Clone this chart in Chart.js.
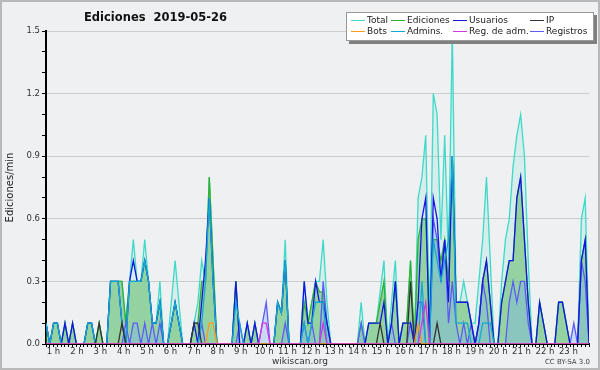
<!DOCTYPE html>
<html lang="es">
<head>
<meta charset="UTF-8">
<title>Ediciones 2019-05-26</title>
<script src="https://cdn.jsdelivr.net/npm/chart.js"></script>
<style>
  body { margin: 0; background: #fff; }
  .frame {
    position: relative; width: 600px; height: 370px;
    background: #eff0f1; overflow: hidden;
    font-family: "DejaVu Sans", sans-serif; color: #222;
  }
  .frame::after {
    content: ""; position: absolute; inset: 0;
    border: 2px solid #b9b9b9; pointer-events: none;
  }
  canvas { position: absolute; left: 0; top: 0; }
  #title {
    position: absolute; left: 84px; top: 10px;
    font-weight: bold; font-size: 11.5px; white-space: pre; color: #111;
  }
  #legend {
    position: absolute; left: 346px; top: 12px; width: 246px; height: 27px;
    background: #fff; border: 1px solid #999; box-shadow: 3px 3px 0 #808080;
  }
  #legend .item {
    position: absolute; height: 12px; line-height: 12px;
    font-size: 9px; white-space: nowrap; color: #222;
  }
  #legend .item i {
    display: inline-block; width: 14px; height: 1px;
    vertical-align: middle; margin-right: 2px;
  }
  #site { position: absolute; left: 0; width: 600px; top: 356px; text-align: center; font-size: 9px; color: #333; }
  #lic { position: absolute; right: 10px; top: 358px; font-size: 7px; color: #444; }
</style>
</head>
<body>
<div class="frame">
  <canvas id="c" width="600" height="370"></canvas>
  <div id="title">Ediciones  2019-05-26</div>
  <div id="legend"></div>
  <div id="site">wikiscan.org</div>
  <div id="lic">CC BY-SA 3.0</div>
</div>

<script>
// one value per 10 minute slot, edits per minute
const hourLabels = ['1 h','2 h','3 h','4 h','5 h','6 h','7 h','8 h','9 h','10 h','11 h','12 h',
                    '13 h','14 h','15 h','16 h','17 h','18 h','19 h','20 h','21 h','22 h','23 h'];

const total = [
  .1,0,.1,.1,0,.1,0,.1,0,0,0,.1,
  .1,0,.1,0,0,.3,.3,.3,.3,.1,.3,.5,
  .3,.3,.5,.3,.1,.1,.3,0,0,.2,.4,.2,
  0,0,0,.1,.2,.4,.3,.8,.4,0,0,0,
  0,0,.3,0,0,.1,0,.1,0,0,0,0,
  0,.2,.15,.5,0,0,0,0,.3,.1,.2,.3,
  .3,.5,.2,0,0,0,0,0,0,0,0,.2,
  0,.1,.1,.1,.25,.4,0,.2,.4,0,.1,.1,
  .4,0,.7,.8,1,.1,1.2,1.1,.5,1,.4,1.5,
  .2,.2,.3,.2,.1,.1,.3,.5,.8,.4,0,0,
  .3,.5,.6,.85,1,1.1,.9,.4,0,0,.2,.1,
  0,0,0,.2,.2,.1,0,0,0,.6,.7,0
];
const ediciones = [
  .1,0,.1,.1,0,.1,0,.1,0,0,0,.1,
  .1,0,.1,0,0,.3,.3,.3,.3,.1,.3,.3,
  .3,.3,.4,.3,.1,.1,.2,0,0,.1,.2,.1,
  0,0,0,.1,.1,.3,.3,.8,.4,0,0,0,
  0,0,.3,0,0,.1,0,.1,0,0,0,0,
  0,.2,.15,.4,0,0,0,0,.2,.1,.2,.3,
  .25,.25,.1,0,0,0,0,0,0,0,0,.1,
  0,.1,.1,.1,.2,.3,0,.1,.3,0,.1,.1,
  .4,0,.5,.6,.6,.1,.5,.5,.4,.5,.3,.9,
  .2,.2,.2,.2,.1,0,.1,.3,.4,.2,0,0,
  .2,.3,.4,.4,.7,.8,.5,.2,0,0,.2,.1,
  0,0,0,.2,.2,.1,0,0,0,.4,.5,0
];
const usuarios = [
  .1,0,.1,.1,0,.1,0,.1,0,0,0,.1,
  .1,0,0,0,0,.3,.3,.3,.1,0,.3,.4,
  .3,.3,.4,.3,.1,.1,.2,0,0,.1,.2,.1,
  0,0,0,.1,0,.2,.4,.7,.3,0,0,0,
  0,0,.3,0,0,.1,0,.1,0,0,0,0,
  0,.2,.15,.4,0,0,0,0,.3,.1,.1,.3,
  .2,.2,.1,0,0,0,0,0,0,0,0,0,
  0,.1,.1,.1,.1,.2,0,.1,.3,0,.1,.1,
  .1,0,.2,.6,.7,0,.7,.6,.3,.5,.2,.9,
  .2,.2,.2,.2,.1,0,.1,.3,.4,.2,0,0,
  .2,.3,.4,.4,.7,.8,.5,.2,0,0,.2,.1,
  0,0,0,.2,.2,.1,0,0,0,.4,.5,0
];
const ip = [
  0,0,0,0,0,0,0,0,0,0,0,0,
  0,0,.1,0,0,0,0,0,.1,0,0,0,
  0,0,0,0,0,0,0,0,0,0,0,0,
  0,0,0,.1,.1,0,0,0,0,0,0,0,
  0,0,0,0,0,0,0,0,0,0,0,0,
  0,0,0,0,0,0,0,0,0,0,0,0,
  0,0,0,0,0,0,0,0,0,0,0,0,
  0,0,0,0,.1,0,0,0,0,0,0,0,
  .3,0,0,0,0,0,0,.1,0,0,0,0,
  0,0,0,0,0,0,0,0,0,0,0,0,
  0,0,0,0,0,0,0,0,0,0,0,0,
  0,0,0,0,0,0,0,0,0,0,0,0
];
const bots = [
  0,0,0,0,0,0,0,0,0,0,0,0,
  0,0,0,0,0,0,0,0,0,0,0,0,
  0,0,0,0,0,0,0,0,0,0,0,0,
  0,0,0,0,0,0,0,.1,.1,0,0,0,
  0,0,0,0,0,0,0,0,0,0,0,0,
  0,0,0,0,0,0,0,0,0,0,0,0,
  0,0,0,0,0,0,0,0,0,0,0,0,
  0,0,0,0,0,0,0,0,0,0,0,0,
  0,0,.1,0,0,0,0,0,0,0,0,0,
  0,0,0,0,0,0,0,0,0,0,0,0,
  0,0,0,0,0,0,0,0,0,0,0,0,
  0,0,0,0,0,0,0,0,0,0,0,0
];
const admins = [
  .1,0,.1,.1,0,0,0,0,0,0,0,.1,
  .1,0,0,0,0,.3,.3,.3,.1,0,.3,.3,
  .3,.3,.4,.3,.1,.1,.2,0,0,.1,.2,.1,
  0,0,0,0,0,.1,.3,.7,.3,0,0,0,
  0,0,.2,.1,0,0,0,0,0,0,0,0,
  0,.2,.15,.4,0,0,0,0,.1,0,.1,.2,
  .2,.2,0,0,0,0,0,0,0,0,0,0,
  0,0,0,0,0,0,0,0,0,0,0,0,
  0,0,0,.3,0,0,.5,.4,.3,.4,.5,.9,
  .1,.1,.1,.1,0,0,0,.1,.1,.1,0,0,
  0,0,0,0,0,0,0,0,0,0,0,0,
  0,0,0,0,0,0,0,0,0,0,0,0
];
const regAdm = [
  0,0,0,0,0,0,0,0,0,0,0,0,
  0,0,0,0,0,0,0,0,0,0,0,0,
  0,0,0,0,0,0,0,0,0,0,0,0,
  0,0,0,0,0,0,0,0,0,0,0,0,
  0,0,0,0,0,0,0,0,0,.1,.1,0,
  0,0,0,0,0,0,0,0,0,0,0,0,
  0,.1,0,0,0,0,0,0,0,0,0,0,
  0,0,0,0,0,0,0,0,0,0,0,0,
  0,0,0,.1,.2,0,0,0,0,0,0,0,
  0,0,0,0,0,0,0,0,0,0,0,0,
  0,0,0,0,0,0,0,0,0,0,0,0,
  0,0,0,0,0,0,0,0,0,0,0,0
];
const registros = [
  0,0,0,0,0,0,0,0,0,0,0,0,
  0,0,0,0,0,0,0,0,0,.1,0,.1,
  .1,0,.1,0,.1,0,.1,0,0,0,0,0,
  0,0,0,0,0,.1,0,0,0,0,0,0,
  0,0,0,.1,0,0,0,0,0,.1,.2,0,
  0,0,0,.1,0,0,0,0,.1,0,.1,0,
  0,.3,.1,0,0,0,0,0,0,0,0,.1,
  0,0,0,0,0,0,0,.1,0,0,0,0,
  .1,0,.2,.2,0,0,.6,.5,.3,.5,.1,.3,
  .1,0,.1,0,.1,0,.1,.3,.2,0,0,0,
  0,0,.2,.3,.2,.3,.3,.1,0,0,0,0,
  0,0,0,0,0,0,0,.1,0,.4,.3,0
];

// where the hour labels sit, in slot units
const HOUR_FIRST = 1.975, HOUR_STEP = 6.163;
const LAST_SLOT = total.length - 1;

const pts = arr => arr.map((v, i) => ({ x: i, y: v }));
const isMajor = v => Math.abs(v * 10 / 3 - Math.round(v * 10 / 3)) < 1e-6;
const line = (label, data, color, order, extra) => Object.assign({
  label, data: pts(data), borderColor: color, backgroundColor: color,
  borderWidth: 1.3, pointRadius: 0, tension: 0, fill: false, order
}, extra || {});

const chart = new Chart(document.getElementById('c'), {
  type: 'line',
  data: {
    datasets: [
      line('Total', total, '#3dd9c9', 8, { fill: 'origin', backgroundColor: 'rgba(61,217,201,0.14)' }),
      line('Ediciones', ediciones, '#33b033', 7, { fill: 'origin', backgroundColor: 'rgba(70,175,70,0.45)' }),
      line('Usuarios', usuarios, '#1414e6', 5),
      line('IP', ip, '#333333', 3),
      line('Bots', bots, '#ff9a1a', 2),
      line('Admins.', admins, '#14a8d4', 4),
      line('Reg. de adm.', regAdm, '#d633e0', 1),
      line('Registros', registros, '#5c5cf5', 6, { fill: 'origin', backgroundColor: 'rgba(110,170,255,0.3)' })
    ]
  },
  options: {
    responsive: false,
    animation: false,
    layout: { padding: { left: 0, right: 11, top: 31, bottom: 0 } },
    plugins: {
      legend: { display: false },
      tooltip: { enabled: false },
      filler: { drawTime: 'beforeDatasetsDraw' }
    },
    scales: {
      x: {
        type: 'linear', min: 0, max: LAST_SLOT, z: 1,
        afterBuildTicks: s => {
          const t = [];
          for (let i = 0; i <= LAST_SLOT; i++) t.push({ value: i });
          hourLabels.forEach((lab, k) => t.push({ value: HOUR_FIRST + k * HOUR_STEP, label: lab }));
          s.ticks = t.sort((a, b) => a.value - b.value);
        },
        afterFit: s => { s.height = 26; },
        grid: {
          drawOnChartArea: false, drawTicks: true, tickLength: 3, tickWidth: 1,
          tickColor: c => (c.tick && c.tick.label) ? 'rgba(0,0,0,0)' : '#000'
        },
        border: { color: '#000', width: 2 },
        ticks: {
          autoSkip: false, maxRotation: 0, minRotation: 0, padding: 0,
          color: '#333', font: { family: 'DejaVu Sans', size: 8.5 },
          callback: (v, i, t) => t[i].label || ''
        }
      },
      y: {
        min: 0, max: 1.5,
        afterFit: s => { s.width = 46; },
        grid: {
          color: c => (c.tick && isMajor(c.tick.value)) ? '#cccccc' : 'rgba(0,0,0,0)',
          tickColor: '#000', tickLength: 4, drawTicks: true
        },
        border: { color: '#000', width: 2 },
        ticks: {
          stepSize: 0.1, autoSkip: false, padding: 2,
          color: '#333', font: { family: 'DejaVu Sans', size: 8.5 },
          callback: v => isMajor(v) ? v.toFixed(1) : ''
        },
        title: {
          display: true, text: 'Ediciones/min', color: '#222',
          font: { family: 'DejaVu Sans', size: 10 }, padding: { top: 4, bottom: 0 }
        }
      }
    }
  }
});

// legend box, 4 columns x 2 rows like the original
const legend = document.getElementById('legend');
const colX = [4, 44, 106, 183];
chart.data.datasets.forEach((ds, k) => {
  const item = document.createElement('div');
  item.className = 'item';
  item.style.left = colX[k % 4] + 'px';
  item.style.top = (k < 4 ? 1 : 12) + 'px';
  item.innerHTML = '<i style="background:' + ds.borderColor + '"></i>' + ds.label;
  legend.appendChild(item);
});
</script>
</body>
</html>
